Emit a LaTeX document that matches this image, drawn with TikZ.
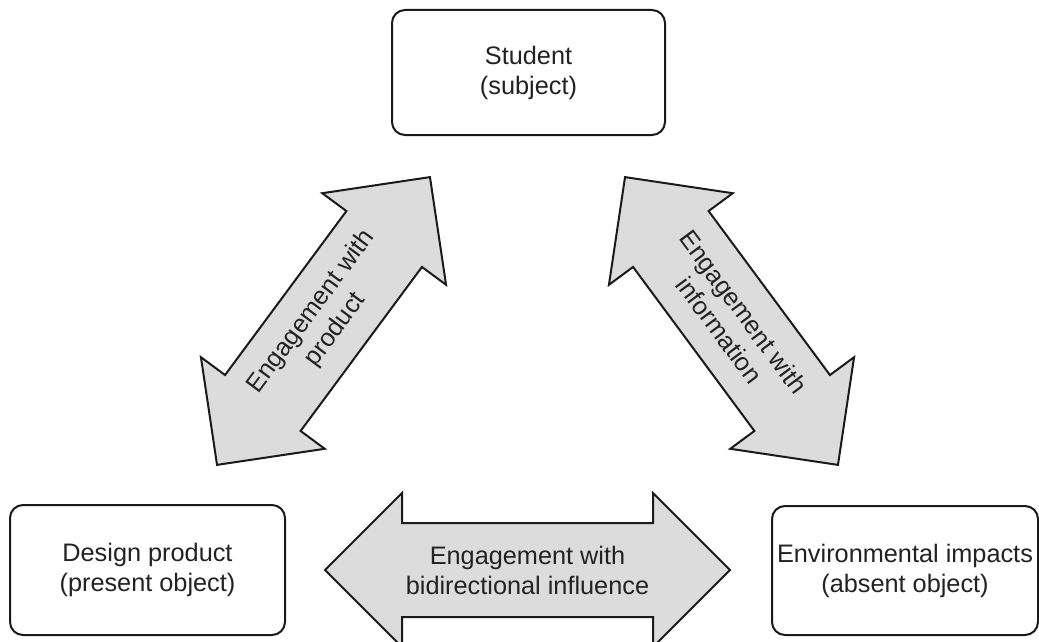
\documentclass[tikz,border=0pt]{standalone}
\usepackage{fontspec}
\setmainfont{Liberation Sans}
\definecolor{arrowgray}{RGB}{220,220,220}
\definecolor{inkline}{RGB}{26,26,26}
\definecolor{inktext}{RGB}{34,34,34}
\begin{document}
\begin{tikzpicture}[x=1pt,y=-1pt,
  every node/.style={font=\fontsize{25.3}{30}\selectfont, text=inktext, align=center},
  box/.style={draw=inkline, line width=2pt, rounded corners=13pt, fill=white, inner sep=0pt},
  arrowbody/.style={draw=inkline, line width=2pt, fill=arrowgray, line join=miter},
  % double-headed block arrow of half length #1, laid along the local x axis
  pics/twoway/.style={code={
    \draw[arrowbody] (-#1,0) -- ({-#1+77},-77) -- ({-#1+77},-47) -- ({#1-77},-47)
      -- ({#1-77},-77) -- (#1,0) -- ({#1-77},77) -- ({#1-77},47)
      -- ({-#1+77},47) -- ({-#1+77},77) -- cycle;
  }}
]
\useasboundingbox (0,0) rectangle (1039,642);
\clip (0,0) rectangle (1039,642);

% the three actors
\node[box, minimum width=273pt, minimum height=125pt] (student) at (528.5,72.5)
  {Student\\(subject)};
\node[box, minimum width=275pt, minimum height=130pt] (design) at (147.5,570)
  {Design product\\(present object)};
\node[box, minimum width=266pt, minimum height=129pt] (env) at (905,570.5)
  {Environmental impacts\\(absent object)};

% block arrows between them
\pic[rotate=53.5] (armProduct) at (323.5,321) {twoway=179};
\pic[rotate=-53.5] (armInfo) at (731.5,321) {twoway=179};
\pic (armInfluence) at (527.5,570) {twoway=202.5};

% arrow labels
\node[rotate=53.5] (lblProduct) at (323.5,321) {Engagement with\\product};
\node[rotate=-53.5] (lblInfo) at (731.5,321) {Engagement with\\information};
\node (lblInfluence) at (527.5,570) {Engagement with\\bidirectional influence};
\end{tikzpicture}
\end{document}
